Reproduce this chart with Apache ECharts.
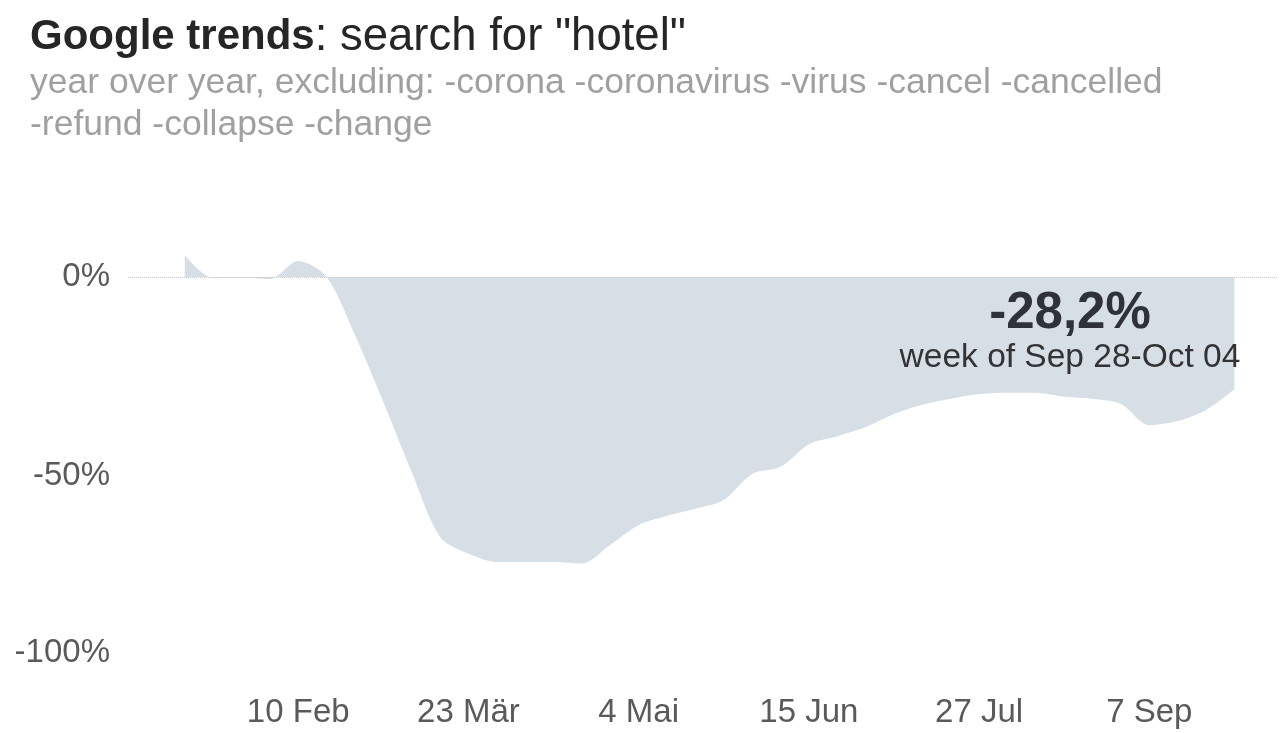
<!DOCTYPE html>
<html>
<head>
<meta charset="utf-8">
<script src="https://cdn.jsdelivr.net/npm/echarts@6/dist/echarts.min.js"></script>
<style>html,body{margin:0;padding:0;background:#fff;}#c{width:1280px;height:733px;}</style>
</head>
<body>
<div id="c"></div>
<script>
// Week start dates (2020), German month abbreviations
const weeks = ['13 Jan','20 Jan','27 Jan','3 Feb','10 Feb','17 Feb','24 Feb','2 Mär','9 Mär','16 Mär',
  '23 Mär','30 Mär','6 Apr','13 Apr','20 Apr','27 Apr','4 Mai','11 Mai','18 Mai','25 Mai',
  '1 Jun','8 Jun','15 Jun','22 Jun','29 Jun','6 Jul','13 Jul','20 Jul','27 Jul','3 Aug',
  '10 Aug','17 Aug','24 Aug','31 Aug','7 Sep','14 Sep','21 Sep','28 Sep'];
// Year-over-year change in %
const yoy = [5.5, -0.3, -0.2, -0.5, 4.0, 0.0, -14.6, -31.4, -49.0, -65.3,
  -69.5, -71.6, -71.6, -71.6, -72.0, -67.3, -62.3, -60.0, -58.2, -56.0,
  -49.5, -47.7, -42.0, -40.0, -37.7, -34.4, -32.1, -30.6, -29.4, -29.1,
  -29.1, -30.1, -30.6, -31.9, -37.2, -36.2, -33.4, -28.2];
const yTicks = [0, -50, -100];
const titleBold = 'Google trends';
const titleRest = ': search for "hotel"';
const subLine1 = 'year over year, excluding: -corona -coronavirus -virus -cancel -cancelled';
const subLine2 = '-refund -collapse -change';
const lastWeekText = 'week of Sep 28-Oct 04';

const FONT = '"Liberation Sans", Arial, sans-serif';
const lastVal = yoy[yoy.length - 1];
const lastValText = (lastVal > 0 ? '+' : '') + lastVal.toFixed(1).replace('.', ',') + '%';

const chart = echarts.init(document.getElementById('c'), null, {renderer: 'canvas'});
chart.setOption({
  animation: false,
  backgroundColor: '#fff',
  title: [
    {
      left: 25, top: 9,
      text: '{b|' + titleBold + '}{r|' + titleRest + '}',
      textStyle: {
        rich: {
          b: {fontFamily: FONT, fontSize: 42, fontWeight: 'bold', color: '#262626'},
          r: {fontFamily: FONT, fontSize: 45.5, fontWeight: 'normal', color: '#262626'}
        }
      },
      subtext: subLine1 + '\n' + subLine2,
      itemGap: 2,
      subtextStyle: {fontFamily: FONT, fontSize: 35.5, color: '#a0a0a0', lineHeight: 42}
    },
    {
      left: 1065, top: 283, textAlign: 'center',
      text: lastValText,
      textStyle: {fontFamily: FONT, fontSize: 51, fontWeight: 'bold', color: '#2f3238'},
      subtext: lastWeekText,
      itemGap: 2,
      subtextStyle: {fontFamily: FONT, fontSize: 33.5, color: '#333'}
    }
  ],
  grid: {left: 128, right: 0, top: 78, bottom: 58, containLabel: false},
  xAxis: {
    type: 'value',
    min: -2, max: 38.5, interval: 6,
    axisLine: {show: false}, axisTick: {show: false}, splitLine: {show: false},
    axisLabel: {
      margin: 21,
      fontFamily: FONT, fontSize: 33, color: '#5a5a5a',
      formatter: v => (Number.isInteger(v) && v >= 0 && v < weeks.length) ? weeks[v] : ''
    }
  },
  yAxis: {
    type: 'value',
    min: -100, max: 50, interval: 50,
    axisLine: {show: false}, axisTick: {show: false}, splitLine: {show: false},
    axisLabel: {
      margin: 18,
      fontFamily: FONT, fontSize: 33, color: '#5a5a5a',
      formatter: v => {
        if (yTicks.indexOf(v) < 0) return '';
        if (v === -100) return '{up|' + v + '%}';
        return v + '%';
      },
      rich: {up: {fontFamily: FONT, fontSize: 33, color: '#5a5a5a', padding: [0, 0, 44, 0]}}
    }
  },
  series: [{
    type: 'line',
    data: yoy.map((v, i) => [i, v]),
    smooth: 0.3,
    symbol: 'none',
    lineStyle: {width: 0, color: '#d6dee6'},
    areaStyle: {color: '#d6dee6', opacity: 1},
    markLine: {
      silent: true, symbol: 'none', label: {show: false},
      lineStyle: {color: '#c9c9c9', type: 'dotted', width: 1},
      data: [{yAxis: 0}]
    }
  }]
});
</script>
</body>
</html>
